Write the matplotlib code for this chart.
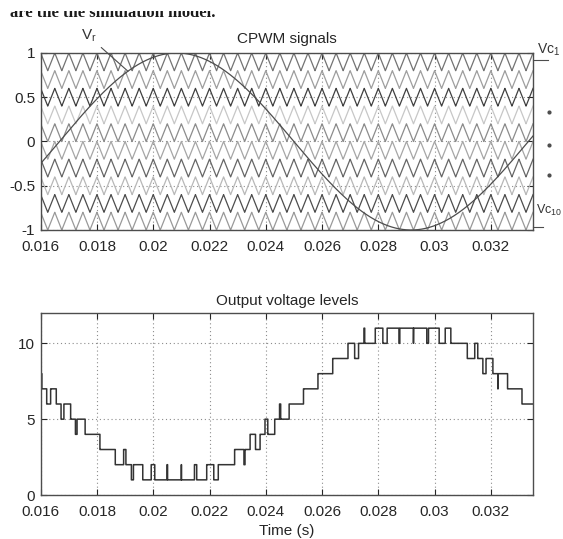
import numpy as np
import matplotlib
matplotlib.use("Agg")
import matplotlib.pyplot as plt
from matplotlib.patches import Rectangle

# ---- data / signal parameters ----
t_start, t_end = 0.016, 0.0335
ref_freq = 60.0          # Hz, reference sine Vr
ref_amp = 1.0
carrier_freq = 2000.0    # Hz, triangular carriers
carrier_height = 0.2
carrier_bases = [0.8, 0.6, 0.4, 0.2, 0.0, -0.2, -0.4, -0.6, -0.8, -1.0]   # Vc1 ... Vc10
carrier_greys = ['0.45', '0.62', '0.25', '0.78', '0.55', '0.65', '0.40', '0.72', '0.30', '0.60']
x_ticks = [0.016, 0.018, 0.02, 0.022, 0.024, 0.026, 0.028, 0.03, 0.032]
x_tick_labels = ['0.016', '0.018', '0.02', '0.022', '0.024', '0.026', '0.028', '0.03', '0.032']
top_yticks = [-1, -0.5, 0, 0.5, 1]
top_ytick_labels = ['-1', '-0.5', '0', '0.5', '1']
bot_yticks = [0, 5, 10]
bot_ytick_labels = ['0', '5', '10']

# ---- signals ----
t = np.linspace(t_start, t_end, 35001)
vr = ref_amp * np.sin(2 * np.pi * ref_freq * t)
phase = np.mod(t * carrier_freq + 1e-9, 1.0)
tri = np.abs(2 * phase - 1)
carriers = [b + carrier_height * tri for b in carrier_bases]
levels = 1 + np.sum([c > vr for c in carriers], axis=0)

plt.rcParams['font.family'] = ['Liberation Sans', 'DejaVu Sans']
plt.rcParams['mathtext.fontset'] = 'custom'
plt.rcParams['mathtext.rm'] = 'Liberation Sans'
plt.rcParams['mathtext.it'] = 'Liberation Sans'

fig = plt.figure(figsize=(5.63, 5.39), dpi=100)
ax1 = fig.add_axes([0.0723, 0.5733, 0.8745, 0.3284])
ax2 = fig.add_axes([0.0723, 0.0816, 0.8745, 0.3377])

def style(ax):
    ax.tick_params(direction='in', top=True, right=True, length=4, width=0.8,
                   labelsize=11, colors='0.15', pad=4)
    ax.tick_params(axis='x', pad=7)
    for s in ax.spines.values():
        s.set_color('0.3')
        s.set_linewidth(1.0)
    ax.grid(True, linestyle=(0, (1, 2.5)), color='0.55', linewidth=0.8)
    ax.set_axisbelow(True)
    ax.set_xlim(t_start, t_end)
    ax.set_xticks(x_ticks)
    ax.set_xticklabels(x_tick_labels)

# ---- top: CPWM signals ----
style(ax1)
for c, g in zip(carriers, carrier_greys):
    ax1.plot(t, c, color=g, linewidth=0.9)
ax1.plot(t, vr, color='0.3', linewidth=0.9)
ax1.set_ylim(-1, 1)
ax1.set_yticks(top_yticks)
ax1.set_yticklabels(top_ytick_labels)
ax1.set_title('CPWM signals', fontsize=11, color='0.15', pad=7)

t_mark = 0.0191
ax1.annotate(r'$\mathregular{V_r}$', xy=(t_mark, ref_amp * np.sin(2 * np.pi * ref_freq * t_mark)),
             xytext=(0.0177, 1.19), textcoords='data', fontsize=11, color='0.2',
             annotation_clip=False, ha='center', va='center',
             arrowprops=dict(arrowstyle='-', color='0.3', lw=0.8, shrinkA=2, shrinkB=0))

# right-hand carrier labels
ax1.plot([1.0, 1.03], [0.92, 0.92], transform=ax1.get_yaxis_transform(), color='0.3',
         lw=0.8, clip_on=False)
ax1.text(1.008, 0.94, r'$\mathregular{Vc_1}$', transform=ax1.get_yaxis_transform(),
         fontsize=10, color='0.2', ha='left', va='bottom', clip_on=False)
for yd in [0.33, -0.04, -0.38]:
    ax1.plot([1.0325], [yd], marker='o', markersize=2, color='0.3',
             transform=ax1.get_yaxis_transform(), clip_on=False)
ax1.plot([1.0, 1.02], [-0.966, -0.966], transform=ax1.get_yaxis_transform(), color='0.3',
         lw=0.8, clip_on=False)
ax1.text(1.005, -0.86, r'$\mathregular{Vc_{10}}$', transform=ax1.get_yaxis_transform(),
         fontsize=9, color='0.2', ha='left', va='bottom', clip_on=False)

# ---- bottom: output voltage levels ----
style(ax2)
ax2.plot(t, levels, color='0.2', linewidth=1.1, drawstyle='steps-post')
ax2.set_ylim(0, 12)
ax2.set_yticks(bot_yticks)
ax2.set_yticklabels(bot_ytick_labels)
ax2.set_title('Output voltage levels', fontsize=11, color='0.15', pad=6)
ax2.set_xlabel('Time (s)', fontsize=11, color='0.15', labelpad=4)

# clipped caption fragment at the very top of the picture
fig.text(0.018, 1 - 17 / 539, 'are the the simulation model.', fontsize=12,
         fontweight='bold', family='Liberation Serif', color='0.1', va='baseline')
fig.patches.append(Rectangle((0, 1 - 11 / 539), 1, 11 / 539, transform=fig.transFigure,
                             facecolor='white', edgecolor='none', zorder=10))

fig.savefig('out.png', dpi=100)
